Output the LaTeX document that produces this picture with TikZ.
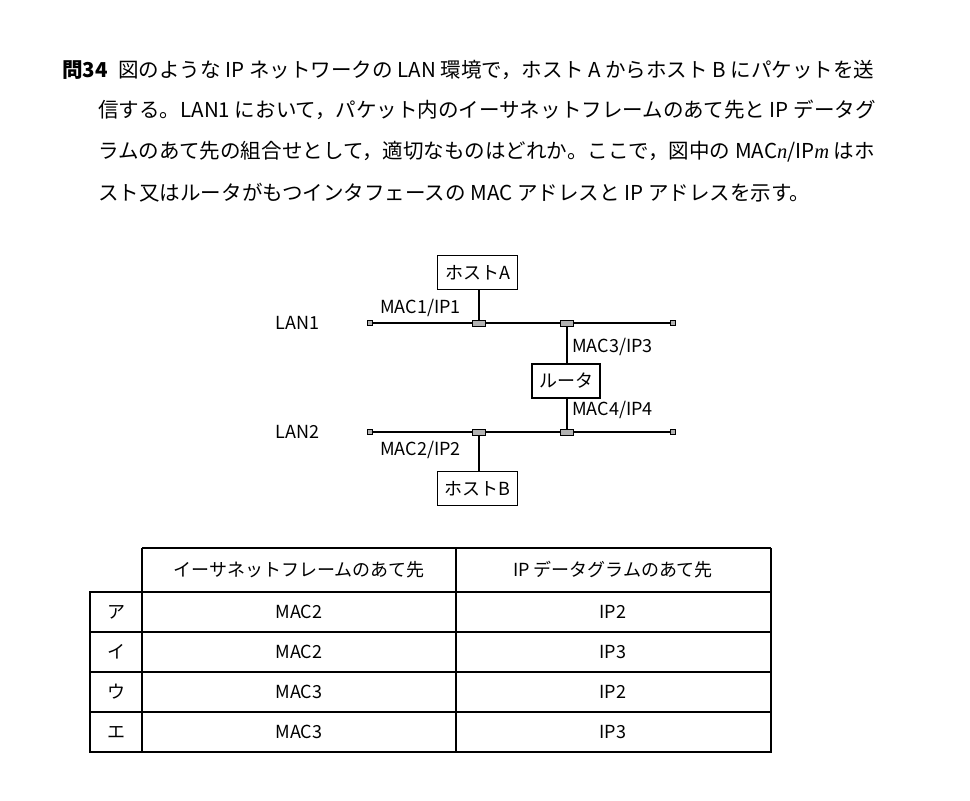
\documentclass[tikz,border=0pt]{standalone}
\usepackage{fontspec}
\setmainfont{Noto Sans CJK JP}
\newfontfamily\lat{Liberation Serif}
\begin{document}
\begin{tikzpicture}[x=0.75pt,y=-0.75pt,
  txt/.style={anchor=west,inner sep=0pt,font=\fontsize{15.4}{17}\selectfont},
  lbl/.style={inner sep=0pt,font=\fontsize{13.5}{15}\selectfont},
  box/.style={draw,line width=0.8pt,inner sep=0pt,font=\fontsize{13.5}{15}\selectfont},
  term/.style={draw,line width=0.6pt,fill=gray!60,minimum width=4pt,minimum height=4pt,inner sep=0pt},
  tap/.style={draw,line width=0.6pt,fill=gray!60,minimum width=10pt,minimum height=4.5pt,inner sep=0pt},
  cell/.style={inner sep=0pt,font=\fontsize{13.5}{15}\selectfont}]
\useasboundingbox (0,0) rectangle (970,800);
\node[txt] (q) at (62,70) {\textbf{問34}};
\node[txt] (l1) at (118,70) {図のような IP ネットワークの LAN 環境で，ホスト A からホスト B にパケットを送};
\node[txt] (l2) at (98,110) {信する。LAN1 において，パケット内のイーサネットフレームのあて先と IP データグ};
\node[txt] (l3) at (98,152) {ラムのあて先の組合せとして，適切なものはどれか。ここで，図中の MAC{\lat\itshape n}/IP{\lat\itshape m} はホ};
\node[txt] (l4) at (98,193) {スト又はルータがもつインタフェースの MAC アドレスと IP アドレスを示す。};
% network
\node[box,minimum width=60pt,minimum height=26pt] (ha) at (477.5,272.5) {ホストA};
\node[box,minimum width=51pt,minimum height=25.5pt] (rt) at (566,381) {ルータ};
\node[box,minimum width=60pt,minimum height=26pt] (hb) at (477.5,488.5) {ホストB};
\coordinate (a1) at (370,323); \coordinate (a2) at (673,323);
\coordinate (b1) at (370,432); \coordinate (b2) at (673,432);
\draw[line width=1pt] (a1) -- (a2);
\draw[line width=1pt] (b1) -- (b2);
\node[tap] (t1) at (479,323) {}; \node[tap] (t3) at (567,323) {};
\node[tap] (t2) at (479,432) {}; \node[tap] (t4) at (567,432) {};
\node[term] at (a1) {}; \node[term] at (a2) {};
\node[term] at (b1) {}; \node[term] at (b2) {};
\draw[line width=0.8pt] (ha.south -| t1) -- (t1.north);
\draw[line width=0.8pt] (t3.south) -- (rt.north -| t3);
\draw[line width=0.8pt] (rt.south -| t4) -- (t4.north);
\draw[line width=0.8pt] (t2.south) -- (hb.north -| t2);
\node[lbl,anchor=west] at (275,323) {LAN1};
\node[lbl,anchor=west] at (275,432) {LAN2};
\node[lbl,anchor=west] at (380,308) {MAC1/IP1};
\node[lbl,anchor=west] at (572,347) {MAC3/IP3};
\node[lbl,anchor=west] at (572,410) {MAC4/IP4};
\node[lbl,anchor=west] at (380,450) {MAC2/IP2};
% table
\draw[line width=0.8pt] (142,548) -- (771,548);
\draw[line width=0.8pt] (90,592) rectangle (771,752);
\foreach \y in {632,672,712} \draw[line width=0.8pt] (90,\y) -- (771,\y);
\draw[line width=0.8pt] (142,548) -- (142,752);
\draw[line width=0.8pt] (456,548) -- (456,752);
\draw[line width=0.8pt] (771,548) -- (771,592);
\node[cell] at (299,570) {イーサネットフレームのあて先};
\node[cell] at (613,570) {IP データグラムのあて先};
\foreach \k/\y/\m/\p in {ア/612/MAC2/IP2,イ/652/MAC2/IP3,ウ/692/MAC3/IP2,エ/732/MAC3/IP3}{
  \node[cell] at (116,\y) {\k};
  \node[cell] at (299,\y) {\m};
  \node[cell] at (613,\y) {\p};
}
\end{tikzpicture}
\end{document}
